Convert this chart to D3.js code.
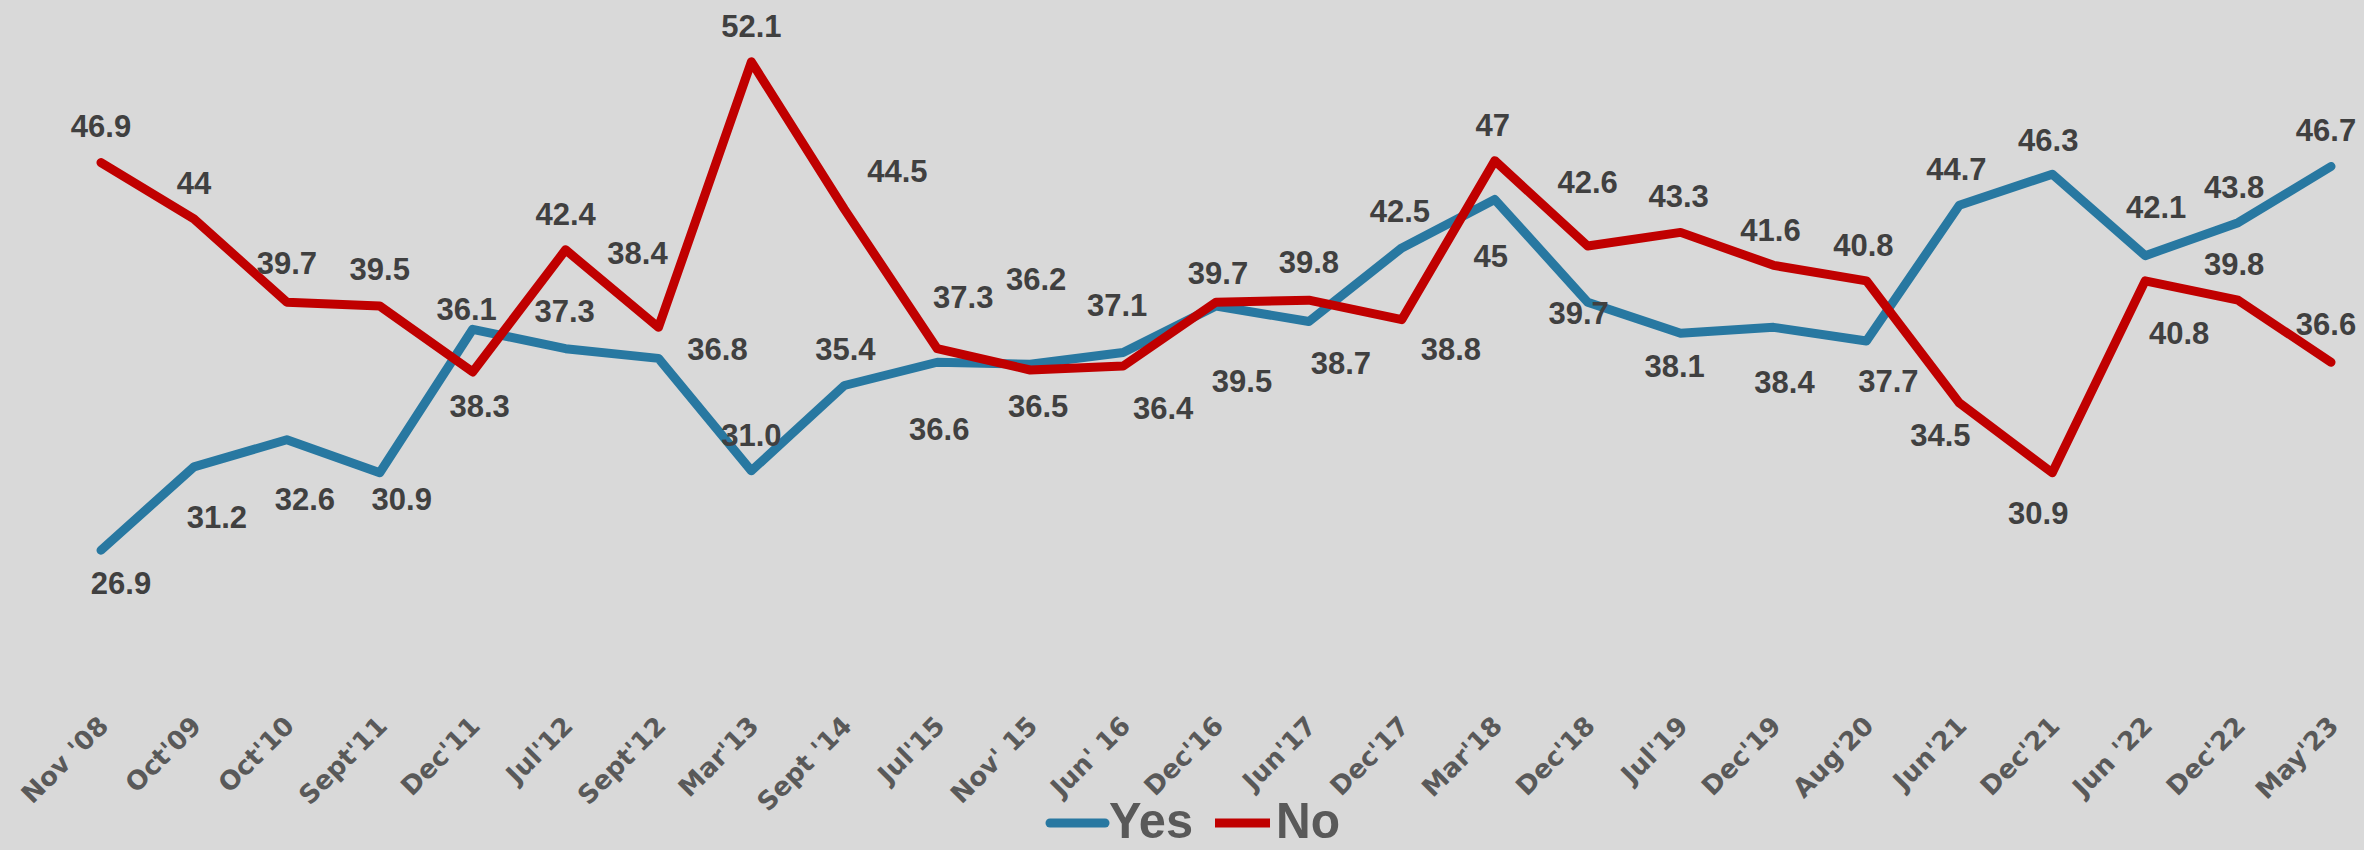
<!DOCTYPE html>
<meta charset="utf-8">
<style>

body {
  margin: 0;
  background: #d9d9d9;
}

.label {
  font: bold 31px "Liberation Sans", Arial, sans-serif;
  fill: #404040;
}

.axis text {
  font: bold 26px "DejaVu Sans", sans-serif;
  fill: #595959;
}

.legend text {
  font: bold 50px "Liberation Sans", Arial, sans-serif;
  fill: #595959;
}

</style>
<svg width="2364" height="850"></svg>
<script src="https://d3js.org/d3.v7.min.js"></script>
<script>

// survey rounds
let categories = ["Nov '08", "Oct'09", "Oct'10", "Sept'11", "Dec'11", "Jul'12", "Sept'12", "Mar'13",
  "Sept '14", "Jul'15", "Nov' 15", "Jun' 16", "Dec'16", "Jun'17", "Dec'17", "Mar'18", "Dec'18",
  "Jul'19", "Dec'19", "Aug'20", "Jun'21", "Dec'21", "Jun '22", "Dec'22", "May'23"];

// values as printed on the chart
let yes = ["26.9", "31.2", "32.6", "30.9", "38.3", "37.3", "36.8", "31.0", "35.4", "36.6", "36.5", "37.1",
  "39.5", "38.7", "42.5", "45", "39.7", "38.1", "38.4", "37.7", "44.7", "46.3", "42.1", "43.8", "46.7"];
let no = ["46.9", "44", "39.7", "39.5", "36.1", "42.4", "38.4", "52.1", "44.5", "37.3", "36.2", "36.4",
  "39.7", "39.8", "38.8", "47", "42.6", "43.3", "41.6", "40.8", "34.5", "30.9", "40.8", "39.8", "36.6"];

// hand placed label offsets (dx, dy from the point), like the original
let yesOffsets = [[20, 33], [23, 50], [18, 59], [22, 26], [7, 77], [-1, -38], [59, -10], [0, -36],
  [1, -37], [2, 67], [8, 42], [-6, -48], [26, 75], [32, 41], [-2, -37], [-4, 56], [-9, 11], [-6, 33],
  [11, 54], [22, 40], [-3, -36], [-4, -34], [11, -49], [-4, -36], [-5, -37]];
let noOffsets = [[0, -37], [0, -36], [0, -39], [0, -37], [-6, -63], [0, -36], [-21, -75], [0, -36],
  [53, -38], [26, -52], [6, -91], [40, 42], [2, -29], [0, -38], [49, 29], [-2, -36], [0, -64],
  [-2, -37], [-3, -35], [-3, -36], [-19, 32], [-14, 40], [34, 52], [-4, -36], [-5, -38]];

let series = [
  {name: 'Yes', values: yes, offsets: yesOffsets, color: '#2878a1'},
  {name: 'No', values: no, offsets: noOffsets, color: '#c00000'}
];

let svg = d3.select('svg');

let x = d3.scalePoint()
  .domain(categories)
  .range([101, 2331]);

let y = d3.scaleLinear()
  .domain([20, 55])
  .range([684, 5.6]);

// category axis, no line, labels turned 45 degrees
let axis = svg.append('g')
  .attr('class', 'axis')
  .attr('transform', 'translate(2,' + 721 + ')')
  .call(d3.axisBottom(x).tickSize(0));

axis.select('.domain').remove();
axis.selectAll('text')
  .attr('y', 0)
  .attr('x', 0)
  .attr('dy', '0.35em')
  .attr('text-anchor', 'end')
  .attr('transform', 'rotate(-45)');

let line = d3.line()
  .x((d, i) => x(categories[i]))
  .y(d => y(+d));

svg.selectAll('.series')
  .data(series)
  .enter().append('path')
    .attr('class', 'series')
    .attr('fill', 'none')
    .attr('stroke', d => d.color)
    .attr('stroke-width', 9)
    .attr('stroke-linejoin', 'round')
    .attr('stroke-linecap', 'round')
    .attr('d', d => line(d.values));

// data labels
series.forEach(s => {
  svg.append('g').selectAll('text')
    .data(s.values)
    .enter().append('text')
      .attr('class', 'label')
      .attr('text-anchor', 'middle')
      .attr('dy', '0.36em')
      .attr('x', (d, i) => x(categories[i]) + s.offsets[i][0])
      .attr('y', (d, i) => y(+d) + s.offsets[i][1])
      .text(d => d);
});

// legend at the bottom
let legend = svg.append('g')
  .attr('class', 'legend')
  .attr('transform', 'translate(1050,823)');

let item = legend.selectAll('g')
  .data(series)
  .enter().append('g')
    .attr('transform', (d, i) => 'translate(' + (i * 165) + ',0)');

item.append('line')
  .attr('x1', 0)
  .attr('x2', 55)
  .attr('stroke', d => d.color)
  .attr('stroke-width', 9)
  .attr('stroke-linecap', d => d.name === 'Yes' ? 'round' : 'butt');

item.append('text')
  .attr('x', (d, i) => i ? 61 : 59)
  .attr('y', 15)
  .attr('textLength', d => d.name === 'Yes' ? 84 : 64)
  .attr('lengthAdjust', 'spacingAndGlyphs')
  .text(d => d.name);

</script>
